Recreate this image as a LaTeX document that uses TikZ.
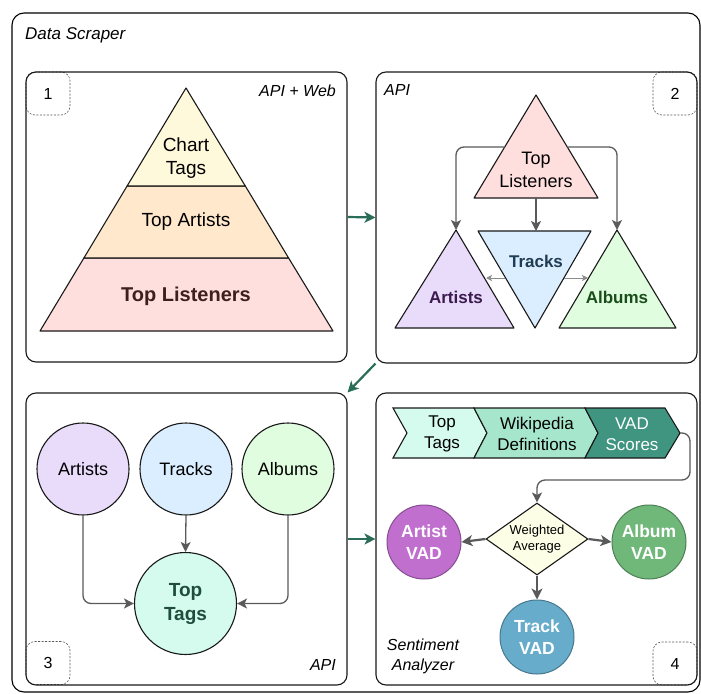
\documentclass[tikz,border=0pt]{standalone}
\usepackage{fontspec}
\setmainfont{Liberation Sans}
\usetikzlibrary{shapes.geometric,arrows.meta}
\definecolor{linkgreen}{HTML}{2A6E5A}
\definecolor{arrgray}{HTML}{5A5A5A}
\definecolor{pyrtop}{HTML}{FFF9DB}
\definecolor{pyrmid}{HTML}{FFE8CC}
\definecolor{pyrbot}{HTML}{FFDEDE}
\definecolor{brownt}{HTML}{3D1F1F}
\definecolor{lav}{HTML}{E8DCFA}
\definecolor{lavt}{HTML}{3C1A4F}
\definecolor{skyb}{HTML}{DBEEFF}
\definecolor{skybt}{HTML}{203C52}
\definecolor{mintg}{HTML}{E0FDE0}
\definecolor{mintgt}{HTML}{1B4D1B}
\definecolor{tagsf}{HTML}{D5FBEE}
\definecolor{tagst}{HTML}{1E4D3C}
\definecolor{stepa}{HTML}{D5FBEE}
\definecolor{stepb}{HTML}{A6E6CC}
\definecolor{stepc}{HTML}{3F9580}
\definecolor{diamf}{HTML}{FCFFE6}
\definecolor{artv}{HTML}{C06FCF}
\definecolor{albv}{HTML}{70B77A}
\definecolor{trkv}{HTML}{67ACCB}
\begin{document}
\begin{tikzpicture}[x=1pt,y=-1pt,
  panel/.style={draw=black!90, line width=1.1pt, rounded corners=10pt, inner sep=0pt},
  numtag/.style={draw=black!65, dash pattern=on 2pt off 1.5pt, line width=0.6pt, rounded corners=9pt, minimum width=44pt, minimum height=43pt, inner sep=0pt, font=\fontsize{16}{18}\selectfont},
  lbl/.style={font=\fontsize{16}{19}\selectfont\itshape, inner sep=0pt},
  txt/.style={font=\fontsize{19}{23}\selectfont, align=center, inner sep=0pt},
  btxt/.style={font=\fontsize{17}{21}\selectfont\bfseries, align=center, inner sep=0pt},
  garrow/.style={draw=linkgreen, line width=2.2pt, -{Stealth[length=11pt,width=11pt,inset=3pt]}},
  grayarrow/.style={draw=arrgray, line width=1.3pt, rounded corners=8pt, -{Stealth[length=10pt,width=10pt,inset=2.5pt]}},
  thinarrow/.style={draw=black!45, line width=1pt, -{Stealth[length=6pt,width=6pt,inset=1.5pt]}},
  bigarrow/.style={draw=arrgray, line width=2.2pt, -{Stealth[length=11pt,width=11pt,inset=3pt]}},
  ent/.style={circle, draw=black!90, line width=1.1pt, minimum size=92pt, inner sep=0pt, font=\fontsize{18}{22}\selectfont},
  vad/.style={circle, line width=1pt, minimum size=74pt, inner sep=0pt, text=white, font=\fontsize{17.5}{22}\selectfont\bfseries, align=center},
  stepshape/.style={draw=black!90, line width=1.1pt, line join=miter},
  steptxt/.style={font=\fontsize{17}{21}\selectfont, align=center, inner sep=0pt}
]
\useasboundingbox (0,0) rectangle (701,693);
\fill[white] (0,0) rectangle (701,693);

% outer container
\draw[line width=1.1pt, rounded corners=12pt] (12,13) rectangle (700,692);
\node[lbl, anchor=west, font=\fontsize{17}{19}\selectfont\itshape] (ds) at (25,35) {Data Scraper};

% number tags
\node[numtag] (t1) at (48,93.5) {1};
\node[numtag] (t2) at (675,93.5) {2};
\node[numtag] (t3) at (48,663) {3};
\node[numtag] (t4) at (675,663.5) {4};

% panels
\node[panel, minimum width=321pt, minimum height=290pt] (b1) at (186.5,217) {};
\node[panel, minimum width=321pt, minimum height=291pt] (b2) at (536.5,217.5) {};
\node[panel, minimum width=321pt, minimum height=292pt] (b3) at (186.5,539) {};
\node[panel, minimum width=321pt, minimum height=292pt] (b4) at (536.5,539) {};

\node[lbl, anchor=east] (l1) at (336,91) {API + Web};
\node[lbl, anchor=west] (l2) at (384,90) {API};
\node[lbl, anchor=east] (l3) at (336,665) {API};
\node[lbl, align=center, font=\fontsize{16}{20}\selectfont\itshape] (l4) at (423,656) {Sentiment\\Analyzer};

% ---------- panel 1: pyramid ----------
\filldraw[fill=pyrbot, draw=black!90, line width=1.1pt, line join=round] (40,331) -- (333,331) -- (288.6,258) -- (83.9,258) -- cycle;
\filldraw[fill=pyrmid, draw=black!90, line width=1.1pt, line join=round] (83.9,258) -- (288.6,258) -- (245.3,186) -- (127.1,186) -- cycle;
\filldraw[fill=pyrtop, draw=black!90, line width=1.1pt, line join=round] (127.1,186) -- (245.3,186) -- (186,88) -- cycle;
\node[txt] (pct) at (186,158) {Chart\\Tags};
\node[txt] (pta) at (186,222) {Top Artists};
\node[txt, font=\fontsize{20}{24}\selectfont\bfseries, text=brownt] (ptl) at (186,296) {Top Listeners};

% ---------- panel 2: triangles ----------
\filldraw[fill=pyrbot, draw=black!90, line width=1.1pt, line join=round] (536,95) -- (598,198) -- (474,198) -- cycle;
\filldraw[fill=lav, draw=black!90, line width=1.1pt, line join=round] (456,230) -- (514,328) -- (395,328) -- cycle;
\filldraw[fill=mintg, draw=black!90, line width=1.1pt, line join=round] (617,230) -- (676,328) -- (559,328) -- cycle;
\filldraw[fill=skyb, draw=black!90, line width=1.1pt, line join=round] (478,231) -- (591,231) -- (535,328) -- cycle;
\node[txt, font=\fontsize{18}{23}\selectfont] (ttl) at (536,170) {Top\\Listeners};
\node[btxt, text=skybt] (ttr) at (536,261) {Tracks};
\node[btxt, text=lavt] (tar) at (456,297) {Artists};
\node[btxt, text=mintgt] (tal) at (617,297) {Albums};
\coordinate (tlL) at (505,147);
\coordinate (tlR) at (567,147);
\coordinate (tlB) at (536,198);
\coordinate (arTop) at (456,230);
\coordinate (alTop) at (617,230);
\coordinate (trTop) at (536,231);
\coordinate (trL) at (505,278);
\coordinate (trR) at (564,278);
\coordinate (arR) at (486,278);
\coordinate (alL) at (588,278);
\draw[grayarrow] (tlL) -| (arTop);
\draw[grayarrow] (tlR) -| (alTop);
\draw[grayarrow] (tlB) -- (trTop);
\draw[thinarrow] (trL) -- (arR);
\draw[thinarrow] (trR) -- (alL);

% ---------- panel 3: circles ----------
\node[ent, fill=lav] (ca) at (83,469) {Artists};
\node[ent, fill=skyb] (ct) at (186,469) {Tracks};
\node[ent, fill=mintg] (cl) at (288,469) {Albums};
\node[ent, fill=tagsf, minimum size=102pt, text=tagst, font=\fontsize{19}{24}\selectfont\bfseries, align=center] (ctt) at (185.5,603.5) {Top\\Tags};
\draw[grayarrow] (ca.south) |- (ctt.west);
\draw[grayarrow] (cl.south) |- (ctt.east);
\draw[grayarrow] (ct.south) -- (ctt.north);

% ---------- panel 4: sentiment ----------
\filldraw[stepshape, fill=stepa] (393,408) -- (474,408) -- (487,433) -- (474,458) -- (393,458) -- (407,433) -- cycle;
\filldraw[stepshape, fill=stepb] (474,408) -- (585,408) -- (598,433) -- (585,458) -- (474,458) -- (487,433) -- cycle;
\filldraw[stepshape, fill=stepc] (585,408) -- (665,408) -- (680,433) -- (665,458) -- (585,458) -- (598,433) -- cycle;
\node[steptxt] (s1) at (442,434) {Top\\Tags};
\node[steptxt] (s2) at (537,434) {Wikipedia\\Definitions};
\node[steptxt, text=white] (s3) at (632,434) {VAD\\Scores};
\coordinate (s3tip) at (680,433);

\node[diamond, draw=black!90, line width=1.1pt, fill=diamf, minimum width=102pt, minimum height=72pt, inner sep=0pt, aspect=1.4, align=center, font=\fontsize{13}{16}\selectfont] (wa) at (537,539) {Weighted\\Average};
\node[vad, fill=artv, draw=artv!70!black] (av) at (424,542) {Artist\\VAD};
\node[vad, fill=albv, draw=albv!70!black] (lv) at (649,542) {Album\\VAD};
\node[vad, fill=trkv, draw=trkv!70!black] (tv) at (537,637) {Track\\VAD};

\draw[grayarrow] (s3tip) -- (690,433) -- (690,480) -- (537,480) -- (wa.north);
\draw[bigarrow] (wa.west) -- (av.east);
\draw[bigarrow] (wa.east) -- (lv.west);
\draw[bigarrow] (wa.south) -- (tv.north);

% ---------- green connectors between panels ----------
\draw[garrow] (b1.east) -- (b2.west);
\draw[garrow] (b2.south west) -- (b3.north east);
\draw[garrow] (b3.east) -- (b4.west);
\end{tikzpicture}
\end{document}
